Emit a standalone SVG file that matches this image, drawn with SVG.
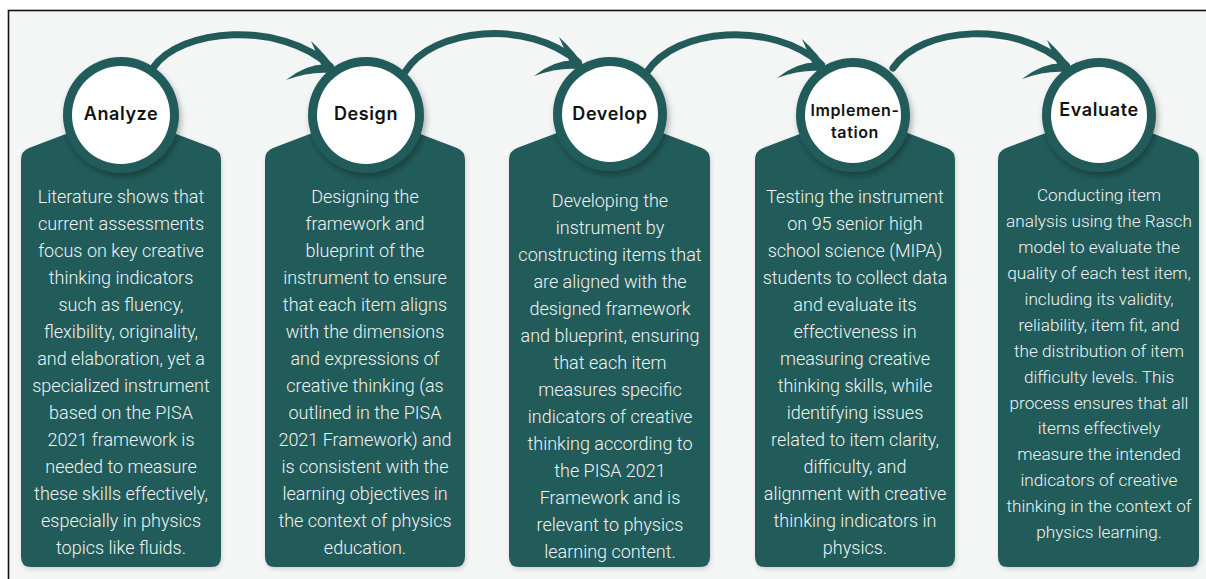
<svg xmlns="http://www.w3.org/2000/svg" width="1206" height="579" viewBox="0 0 1206 579">
<defs>
<style>
.panel{fill:#235b5a;}
.ring{fill:#235b5a;}
.inner{fill:#ffffff;}
.lbl{font-family:Inter,"DejaVu Sans",sans-serif;font-weight:600;font-size:18px;fill:#111;text-anchor:middle;letter-spacing:0.6px;}
.lbl2{font-size:16px;}
.body{font-family:Roboto,"Liberation Sans",sans-serif;font-weight:300;font-size:18px;fill:#f1f3f3;text-anchor:middle;}
.b5{font-size:17.2px;}
.arc{fill:none;stroke:#235b5a;stroke-width:7;stroke-linecap:round;}
.head{fill:#235b5a;}
</style>
<g id="ahead">
<path class="head" d="M4,2 Q-4,-11 -21,-27 Q-13,-9 -8,4 Z"/>
<path class="head" d="M2,-3 Q-22,-7 -46,12 Q-22,3 0,5 Z"/>
</g>
<filter id="sh" x="-30%" y="-30%" width="160%" height="160%">
<feDropShadow dx="2" dy="4" stdDeviation="3" flood-color="#000" flood-opacity="0.3"/>
</filter>
<filter id="psh" x="-10%" y="-10%" width="120%" height="120%">
<feDropShadow dx="1" dy="2" stdDeviation="2" flood-color="#000" flood-opacity="0.15"/>
</filter>
</defs>
<rect x="0" y="0" width="1206" height="579" fill="#ffffff"/>
<rect x="8.5" y="10.5" width="1220" height="600" fill="#f4f5f5" stroke="#111" stroke-width="1.6"/>

<g id="connectors">
<path class="arc" d="M153,68 C180,28 280,20 330,66"/>
<use href="#ahead" transform="translate(332,68)"/>

<path class="arc" d="M405,72 C432,28 528,18 578,62"/>
<use href="#ahead" transform="translate(580,64)"/>

<path class="arc" d="M647,72 C675,28 772,20 821,64"/>
<use href="#ahead" transform="translate(823,66)"/>

<path class="arc" d="M893,68 C921,26 1018,20 1066,65"/>
<use href="#ahead" transform="translate(1068,67)"/>
</g>

<g id="node-analyze">
<path class="panel" filter="url(#psh)" d="M21,557 L21,160 Q21,151 29,148 L121,113 L213,148 Q221,151 221,160 L221,557 Q221,567 211,567 L31,567 Q21,567 21,557 Z"/>
<circle class="ring" cx="121" cy="115" r="58" filter="url(#sh)"/>
<circle class="inner" cx="121" cy="115" r="49"/>
<text class="lbl" x="121" y="120">Analyze</text>
<text class="body" x="121" y="203">Literature shows that</text>
<text class="body" x="121" y="230">current assessments</text>
<text class="body" x="121" y="257">focus on key creative</text>
<text class="body" x="121" y="284">thinking indicators</text>
<text class="body" x="121" y="311">such as fluency,</text>
<text class="body" x="121" y="338">flexibility, originality,</text>
<text class="body" x="121" y="365">and elaboration, yet a</text>
<text class="body" x="121" y="392">specialized instrument</text>
<text class="body" x="121" y="419">based on the PISA</text>
<text class="body" x="121" y="446">2021 framework is</text>
<text class="body" x="121" y="473">needed to measure</text>
<text class="body" x="121" y="500">these skills effectively,</text>
<text class="body" x="121" y="527">especially in physics</text>
<text class="body" x="121" y="554">topics like fluids.</text>
</g>

<g id="node-design">
<path class="panel" filter="url(#psh)" d="M265,557 L265,160 Q265,151 273,148 L365,113 L457,148 Q465,151 465,160 L465,557 Q465,567 455,567 L275,567 Q265,567 265,557 Z"/>
<circle class="ring" cx="366" cy="115" r="58" filter="url(#sh)"/>
<circle class="inner" cx="366" cy="115" r="49"/>
<text class="lbl" x="366" y="120">Design</text>
<text class="body" x="365" y="203">Designing the</text>
<text class="body" x="365" y="230">framework and</text>
<text class="body" x="365" y="257">blueprint of the</text>
<text class="body" x="365" y="284">instrument to ensure</text>
<text class="body" x="365" y="311">that each item aligns</text>
<text class="body" x="365" y="338">with the dimensions</text>
<text class="body" x="365" y="365">and expressions of</text>
<text class="body" x="365" y="392">creative thinking (as</text>
<text class="body" x="365" y="419">outlined in the PISA</text>
<text class="body" x="365" y="446">2021 Framework) and</text>
<text class="body" x="365" y="473">is consistent with the</text>
<text class="body" x="365" y="500">learning objectives in</text>
<text class="body" x="365" y="527">the context of physics</text>
<text class="body" x="365" y="554">education.</text>
</g>

<g id="node-develop">
<path class="panel" filter="url(#psh)" d="M509,557 L509,160 Q509,151 517,148 L610,113 L702,148 Q710,151 710,160 L710,557 Q710,567 700,567 L519,567 Q509,567 509,557 Z"/>
<circle class="ring" cx="610" cy="114" r="57" filter="url(#sh)"/>
<circle class="inner" cx="610" cy="114" r="48"/>
<text class="lbl" x="610" y="120">Develop</text>
<text class="body" x="610" y="207">Developing the</text>
<text class="body" x="610" y="234">instrument by</text>
<text class="body" x="610" y="261">constructing items that</text>
<text class="body" x="610" y="288">are aligned with the</text>
<text class="body" x="610" y="315">designed framework</text>
<text class="body" x="610" y="342">and blueprint, ensuring</text>
<text class="body" x="610" y="369">that each item</text>
<text class="body" x="610" y="396">measures specific</text>
<text class="body" x="610" y="423">indicators of creative</text>
<text class="body" x="610" y="450">thinking according to</text>
<text class="body" x="610" y="477">the PISA 2021</text>
<text class="body" x="610" y="504">Framework and is</text>
<text class="body" x="610" y="531">relevant to physics</text>
<text class="body" x="610" y="558">learning content.</text>
</g>

<g id="node-implementation">
<path class="panel" filter="url(#psh)" d="M755,557 L755,160 Q755,151 763,148 L855,113 L947,148 Q955,151 955,160 L955,557 Q955,567 945,567 L765,567 Q755,567 755,557 Z"/>
<circle class="ring" cx="853" cy="115" r="57" filter="url(#sh)"/>
<circle class="inner" cx="853" cy="115" r="48"/>
<text class="lbl lbl2" x="855" y="116">Implemen-</text>
<text class="lbl lbl2" x="855" y="138">tation</text>
<text class="body" x="855" y="203">Testing the instrument</text>
<text class="body" x="855" y="230">on 95 senior high</text>
<text class="body" x="855" y="257">school science (MIPA)</text>
<text class="body" x="855" y="284">students to collect data</text>
<text class="body" x="855" y="311">and evaluate its</text>
<text class="body" x="855" y="338">effectiveness in</text>
<text class="body" x="855" y="365">measuring creative</text>
<text class="body" x="855" y="392">thinking skills, while</text>
<text class="body" x="855" y="419">identifying issues</text>
<text class="body" x="855" y="446">related to item clarity,</text>
<text class="body" x="855" y="473">difficulty, and</text>
<text class="body" x="855" y="500">alignment with creative</text>
<text class="body" x="855" y="527">thinking indicators in</text>
<text class="body" x="855" y="554">physics.</text>
</g>

<g id="node-evaluate">
<path class="panel" filter="url(#psh)" d="M998,557 L998,160 Q998,151 1006,148 L1099,113 L1191,148 Q1199,151 1199,160 L1199,557 Q1199,567 1189,567 L1008,567 Q998,567 998,557 Z"/>
<circle class="ring" cx="1099" cy="115" r="57" filter="url(#sh)"/>
<circle class="inner" cx="1099" cy="115" r="48"/>
<text class="lbl" x="1099" y="116">Evaluate</text>
<text class="body b5" x="1099" y="201">Conducting item</text>
<text class="body b5" x="1099" y="227">analysis using the Rasch</text>
<text class="body b5" x="1099" y="253">model to evaluate the</text>
<text class="body b5" x="1099" y="279">quality of each test item,</text>
<text class="body b5" x="1099" y="305">including its validity,</text>
<text class="body b5" x="1099" y="331">reliability, item fit, and</text>
<text class="body b5" x="1099" y="357">the distribution of item</text>
<text class="body b5" x="1099" y="383">difficulty levels. This</text>
<text class="body b5" x="1099" y="409">process ensures that all</text>
<text class="body b5" x="1099" y="434">items effectively</text>
<text class="body b5" x="1099" y="460">measure the intended</text>
<text class="body b5" x="1099" y="486">indicators of creative</text>
<text class="body b5" x="1099" y="512">thinking in the context of</text>
<text class="body b5" x="1099" y="538">physics learning.</text>
</g>
</svg>
